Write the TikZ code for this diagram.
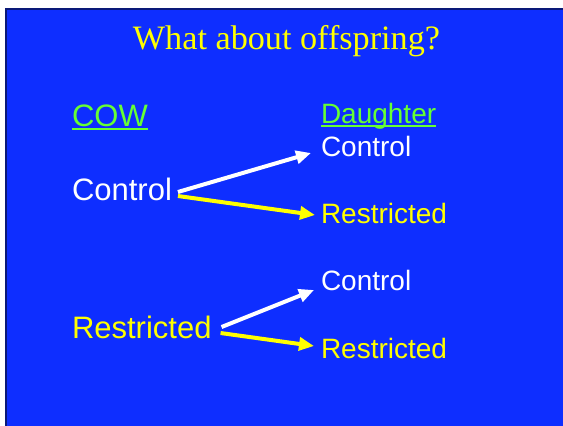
\documentclass[tikz,border=0pt]{standalone}
\usepackage{fontspec}
\setmainfont{Liberation Serif}
\newfontfamily\arialf{Liberation Sans}
\usetikzlibrary{arrows.meta,calc}
\definecolor{slideblue}{RGB}{14,46,255}
\definecolor{edgeblue}{RGB}{10,25,120}
\definecolor{cowgreen}{RGB}{102,255,51}
\definecolor{ylw}{RGB}{255,255,0}
\begin{document}
\begin{tikzpicture}[x=1pt,y=-1pt,
  lbl/.style={anchor=base west,inner sep=0pt,outer sep=0pt,font=\arialf\fontsize{31}{36}\selectfont},
  rlbl/.style={anchor=base west,inner sep=0pt,outer sep=0pt,font=\arialf\fontsize{28}{33}\selectfont},
  arr/.style={line width=4pt,-{Triangle[length=15pt,width=13pt]}}]
\useasboundingbox (0,0) rectangle (563,426);
\fill[white] (0,0) rectangle (563,426);
\fill[slideblue] (5,8) rectangle (563,426);
\draw[edgeblue,line width=2pt] (6,426) -- (6,9) -- (563,9);
\node[anchor=base,inner sep=0pt,text=ylw,font=\fontsize{34.2}{40}\selectfont] (title) at (286.5,49) {What about offspring?};
\node[lbl,text=cowgreen] (cow) at (72,126) {COW};
\draw[cowgreen,line width=2pt] ($(cow.base west)+(0,2.5)$) -- ($(cow.base east)+(0,2.5)$);
\node[rlbl,text=cowgreen] (dau) at (321,123) {Daughter};
\draw[cowgreen,line width=2pt] ($(dau.base west)+(0,3)$) -- ($(dau.base east)+(0,3)$);
\node[lbl,text=white] (lc) at (72,200) {Control};
\node[lbl,text=ylw] (lr) at (72,338) {Restricted};
\node[rlbl,text=white] (rc1) at (321,156) {Control};
\node[rlbl,text=ylw] (rr1) at (321,223) {Restricted};
\node[rlbl,text=white] (rc2) at (321,290) {Control};
\node[rlbl,text=ylw] (rr2) at (321,358) {Restricted};
\draw[arr,white] ($(lc.base east)+(6,-8)$) -- ($(rc1.base west)+(-10,-3)$);
\draw[arr,ylw] ($(lc.base east)+(6,-4)$) -- ($(rr1.base west)+(-6,-8)$);
\draw[arr,white] ($(lr.base east)+(10,-11)$) -- ($(rc2.base west)+(-7,0)$);
\draw[arr,ylw] ($(lr.base east)+(9,-5)$) -- ($(rr2.base west)+(-7,-12)$);
\end{tikzpicture}
\end{document}
